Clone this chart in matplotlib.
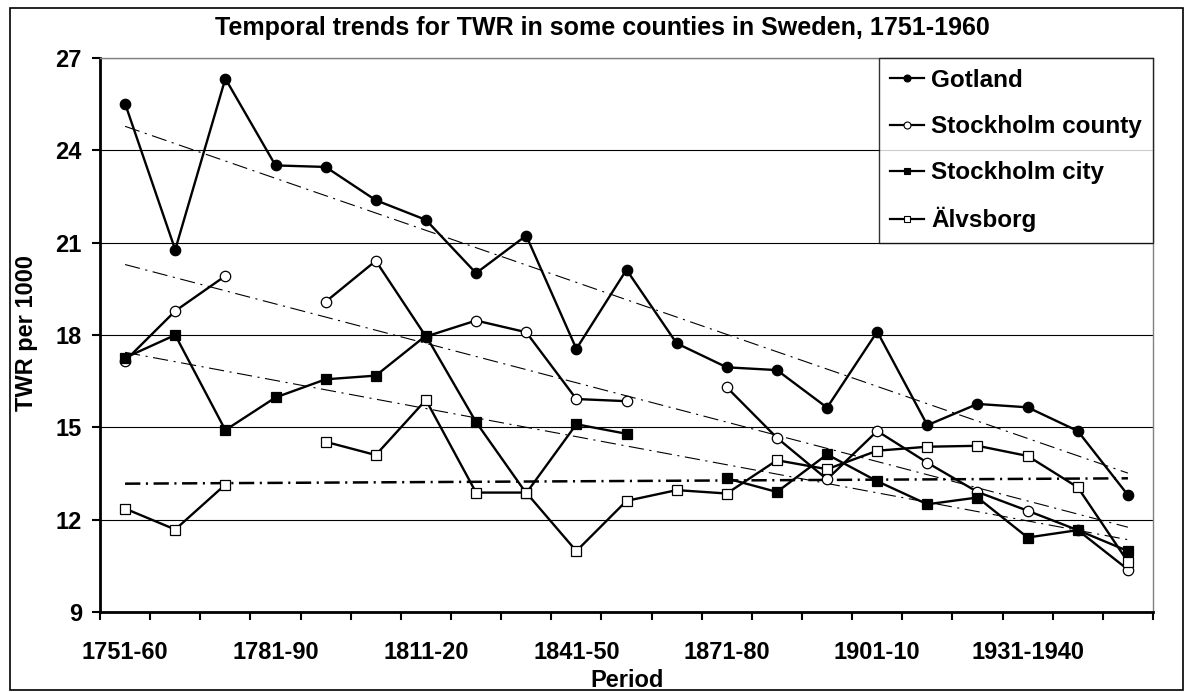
import numpy as np
import matplotlib
matplotlib.use("Agg")
import matplotlib.pyplot as plt
from matplotlib.lines import Line2D
from matplotlib.patches import Rectangle

periods = ["1751-60", "1761-70", "1771-80", "1781-90", "1791-1800", "1801-10", "1811-20",
           "1821-30", "1831-40", "1841-50", "1851-60", "1861-70", "1871-80", "1881-90",
           "1891-1900", "1901-10", "1911-20", "1921-30", "1931-1940", "1941-50", "1951-60"]
nan = np.nan
gotland = [25.52, 20.77, 26.33, 23.51, 23.46, 22.38, 21.74, 20.01, 21.23, 17.55, 20.12,
           17.73, 16.95, 16.86, 15.64, 18.11, 15.07, 15.76, 15.65, 14.88, 12.80]
sthlm_county = [17.16, 18.78, 19.92, nan, 19.08, 20.41, 17.95, 18.47, 18.09, 15.92, 15.85,
                nan, 16.30, 14.66, 13.31, 14.88, 13.85, 12.90, 12.29, 11.66, 10.38]
sthlm_city = [17.26, 18.00, 14.91, 15.97, 16.56, 16.68, 17.98, 15.17, 12.86, 15.10, 14.79,
              nan, 13.34, 12.90, 14.12, 13.25, 12.50, 12.72, 11.42, 11.66, 10.98]
alvsborg = [12.36, 11.68, 13.14, nan, 14.53, 14.10, 15.89, 12.88, 12.88, 10.98, 12.61,
            12.96, 12.85, 13.93, 13.64, 14.24, 14.37, 14.40, 14.07, 13.05, 10.63]
names = ["Gotland", "Stockholm county", "Stockholm city", "Älvsborg"]
label_every = 3

plt.rcParams['font.family'] = ['Liberation Sans', 'DejaVu Sans']
plt.rcParams['font.weight'] = 'bold'
plt.rcParams['lines.scale_dashes'] = False

W, H = 1191, 692
fig = plt.figure(figsize=(W / 100, H / 100), dpi=100)
ax = fig.add_axes([100 / W, (H - 612) / H, (1153 - 100) / W, (612 - 58) / H])

x = np.arange(len(periods))
series = [gotland, sthlm_county, sthlm_city, alvsborg]
markers = ['o', 'o', 's', 's']
faces = ['black', 'white', 'black', 'white']

# trend lines (linear fit, gaps skipped)
for k, s in enumerate(series):
    y = np.array(s, dtype=float)
    ok = ~np.isnan(y)
    b, a = np.polyfit(x[ok], y[ok], 1)
    lw = 1.8 if k == 3 else 0.8
    ax.plot(x, a + b * x, color='black', lw=lw, dashes=(11, 4, 1.5, 4), zorder=2)

handles = []
for s, m, fc, n in zip(series, markers, faces, names):
    ax.plot(x, s, color='black', lw=1.7, marker=m, markersize=7.5 if m == 'o' else 7,
            markerfacecolor=fc, markeredgecolor='black', markeredgewidth=0.9, zorder=3)
    handles.append(Line2D([], [], color='black', lw=1.6, marker=m, markersize=5,
                          markerfacecolor=fc, markeredgecolor='black', markeredgewidth=0.8, label=n))

ax.set_xlim(-0.5, len(periods) - 0.5)
ax.set_ylim(9, 27)
ax.set_yticks(np.arange(9, 28, 3))
ax.yaxis.grid(True, color='black', lw=0.8)
ax.set_axisbelow(True)
ax.tick_params(axis='y', direction='out', length=6, width=1.5, labelsize=17, pad=7)

ax.set_xticks(np.arange(-0.5, len(periods), 1))
ax.set_xticklabels([])
ax.set_xticks(x[::label_every], minor=True)
ax.set_xticklabels(periods[::label_every], minor=True)
ax.tick_params(axis='x', which='major', direction='out', length=6, width=1.5)
ax.tick_params(axis='x', which='minor', length=0, labelsize=17, pad=21)

ax.spines['left'].set_linewidth(2)
ax.spines['bottom'].set_linewidth(2)
ax.spines['right'].set_color('#808080')
ax.spines['top'].set_color('#808080')
ax.spines['right'].set_linewidth(1)
ax.spines['top'].set_linewidth(1)

leg = ax.legend(handles=handles, loc='upper right', bbox_to_anchor=(1, 1), borderaxespad=0,
                fontsize=17.5, frameon=True, fancybox=False, edgecolor='black',
                handlelength=1.4, handletextpad=0.3, labelspacing=0.95, borderpad=0.45)
leg.get_frame().set_linewidth(1)

fig.text(602 / W, 1 - 35 / H, "Temporal trends for TWR in some counties in Sweden, 1751-1960",
         ha='center', va='baseline', fontsize=18, fontweight='bold')
fig.text(27 / W, 1 - 333 / H, "TWR per 1000", rotation=90, ha='center', va='center',
         fontsize=17, fontweight='bold')
fig.text(627 / W, 5 / H, "Period", ha='center', va='baseline', fontsize=17, fontweight='bold')

fig.add_artist(Rectangle((10 / W, 2 / H), (1183 - 10) / W, (H - 10) / H, transform=fig.transFigure,
                         fill=False, edgecolor='black', lw=1.2))

fig.savefig("out.png", dpi=100)
